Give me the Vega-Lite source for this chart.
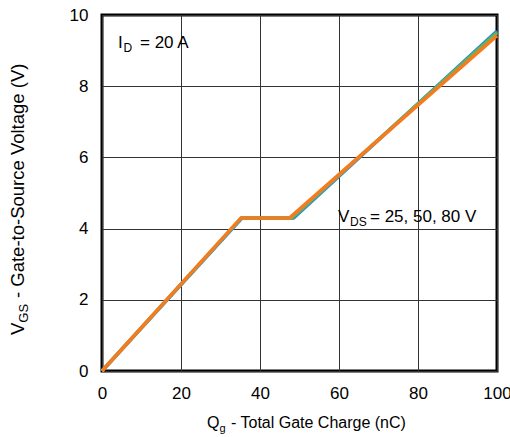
{
  "$schema": "https://vega.github.io/schema/vega-lite/v6.json",
  "width": 395,
  "height": 356,
  "autosize": {"type": "none"},
  "padding": {"left": 102, "top": 15, "right": 13, "bottom": 66},
  "background": "white",
  "config": {
    "font": "Liberation Sans",
    "view": {"stroke": "black", "strokeWidth": 3},
    "axis": {
      "labelFont": "Liberation Sans",
      "labelFontSize": 17,
      "labelColor": "black",
      "labelFlush": false,
      "labelBound": false,
      "labelOverlap": false,
      "ticks": false,
      "domain": false,
      "grid": true,
      "gridColor": "#333333",
      "gridWidth": 1,
      "title": null,
      "labelPadding": 14
    }
  },
  "datasets": {
    "curves": [
      {"series": "25 V", "qg": 0, "vgs": 0},
      {"series": "25 V", "qg": 35.5, "vgs": 4.3},
      {"series": "25 V", "qg": 48.5, "vgs": 4.3},
      {"series": "25 V", "qg": 100, "vgs": 9.55},
      {"series": "50 V", "qg": 0, "vgs": 0},
      {"series": "50 V", "qg": 35.3, "vgs": 4.3},
      {"series": "50 V", "qg": 48, "vgs": 4.3},
      {"series": "50 V", "qg": 100, "vgs": 9.5},
      {"series": "80 V", "qg": 0, "vgs": 0},
      {"series": "80 V", "qg": 35.2, "vgs": 4.3},
      {"series": "80 V", "qg": 47.5, "vgs": 4.3},
      {"series": "80 V", "qg": 100, "vgs": 9.42}
    ],
    "labels": [
      {"x": -19.87, "y": 1.011, "text": "V", "kind": "main", "role": "ytitle"},
      {"x": -19.87, "y": 1.357, "text": "GS", "kind": "sub", "role": "ytitle"},
      {"x": -19.87, "y": 2.05, "text": "- Gate-to-Source Voltage (V)", "kind": "main", "role": "ytitle"},
      {"x": 26.58, "y": -1.601, "text": "Q", "kind": "main", "role": "xtitle"},
      {"x": 29.72, "y": -1.601, "text": "g", "kind": "sub", "role": "xtitle"},
      {"x": 32.66, "y": -1.601, "text": "- Total Gate Charge (nC)", "kind": "main", "role": "xtitle"},
      {"x": 4.05, "y": 9.07, "text": "I", "kind": "main", "role": "note"},
      {"x": 5.44, "y": 9.07, "text": "D", "kind": "sub", "role": "note"},
      {"x": 9.62, "y": 9.07, "text": "= 20 A", "kind": "main", "role": "note"},
      {"x": 59.75, "y": 4.185, "text": "V", "kind": "main", "role": "note"},
      {"x": 62.78, "y": 4.185, "text": "DS", "kind": "sub", "role": "note"},
      {"x": 67.85, "y": 4.185, "text": "= 25, 50, 80 V", "kind": "main", "role": "note"}
    ]
  },
  "encoding": {
    "x": {"field": "x", "type": "quantitative", "scale": {"domain": [0, 100], "nice": false},
          "axis": {"values": [0, 20, 40, 60, 80, 100]}},
    "y": {"field": "y", "type": "quantitative", "scale": {"domain": [0, 10], "nice": false},
          "axis": {"values": [0, 2, 4, 6, 8, 10]}}
  },
  "layer": [
    {
      "data": {"name": "curves"},
      "mark": {"type": "line", "strokeWidth": 3.5, "strokeCap": "butt", "strokeJoin": "miter"},
      "encoding": {
        "x": {"field": "qg", "type": "quantitative"},
        "y": {"field": "vgs", "type": "quantitative"},
        "color": {"field": "series", "type": "nominal", "legend": null,
                  "scale": {"domain": ["25 V", "50 V", "80 V"], "range": ["#2b8ad0", "#5cb85c", "#f47b20"]}}
      }
    },
    {
      "data": {"name": "labels"},
      "transform": [{"filter": "datum.kind === 'main' && datum.role === 'note'"}],
      "mark": {"type": "text", "align": "left", "baseline": "alphabetic", "fontSize": 17, "color": "black"},
      "encoding": {"text": {"field": "text"}}
    },
    {
      "data": {"name": "labels"},
      "transform": [{"filter": "datum.kind === 'sub' && datum.role === 'note'"}],
      "mark": {"type": "text", "align": "left", "baseline": "alphabetic", "fontSize": 12, "dy": 4, "color": "black"},
      "encoding": {"text": {"field": "text"}}
    },
    {
      "data": {"name": "labels"},
      "transform": [{"filter": "datum.kind === 'main' && datum.role === 'xtitle'"}],
      "mark": {"type": "text", "align": "left", "baseline": "alphabetic", "fontSize": 16, "color": "black"},
      "encoding": {"text": {"field": "text"}}
    },
    {
      "data": {"name": "labels"},
      "transform": [{"filter": "datum.kind === 'sub' && datum.role === 'xtitle'"}],
      "mark": {"type": "text", "align": "left", "baseline": "alphabetic", "fontSize": 11, "dy": 4, "color": "black"},
      "encoding": {"text": {"field": "text"}}
    },
    {
      "data": {"name": "labels"},
      "transform": [{"filter": "datum.kind === 'main' && datum.role === 'ytitle'"}],
      "mark": {"type": "text", "align": "left", "baseline": "alphabetic", "angle": 270, "fontSize": 18.5, "color": "black"},
      "encoding": {"text": {"field": "text"}}
    },
    {
      "data": {"name": "labels"},
      "transform": [{"filter": "datum.kind === 'sub' && datum.role === 'ytitle'"}],
      "mark": {"type": "text", "align": "left", "baseline": "alphabetic", "angle": 270, "fontSize": 13, "dy": 4, "color": "black"},
      "encoding": {"text": {"field": "text"}}
    }
  ]
}
